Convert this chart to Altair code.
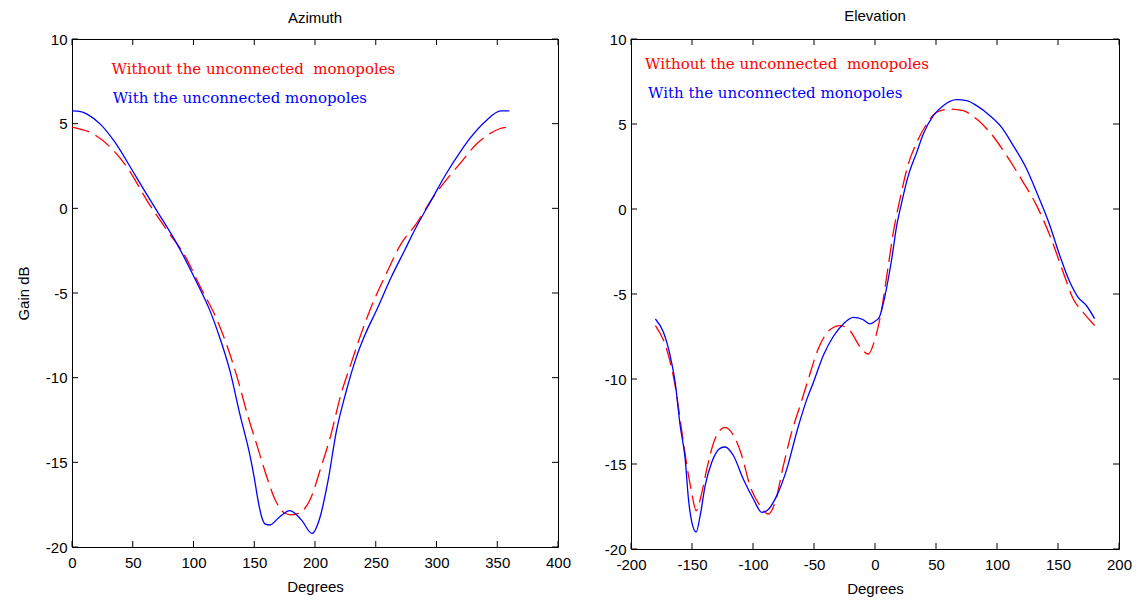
import altair as alt
import pandas as pd

# ---- Azimuth cut (degrees 0..360) ----
az_with_deg = [0, 8, 12.7, 23.5, 34.6, 50.8, 60, 70, 86.4, 102.8, 113.7, 121, 130, 138.3,
               146.5, 150, 153, 156, 159, 163, 169.7, 179.3, 188.8, 197.6, 203.9, 210.7,
               217.5, 225.7, 234, 241, 251.6, 262.5, 273.5, 283, 296.9, 307.6, 320, 328,
               340.6, 353, 360]
az_with_gain = [5.75, 5.7, 5.55, 4.96, 3.98, 2.1, 1.0, -0.16, -2.1, -4.4, -6.07, -7.5, -9.6,
                -12.2, -14.6, -15.9, -17.2, -18.2, -18.65, -18.7, -18.3, -17.85, -18.4,
                -19.2, -18.3, -16.1, -13.2, -10.8, -8.8, -7.5, -5.87, -4.1, -2.52, -1.15,
                0.63, 2.0, 3.38, 4.17, 5.16, 5.75, 5.75]

az_without_deg = [0, 18, 32, 45.6, 62, 78.6, 92.3, 106, 119.8, 128, 136, 144.5, 152.7, 159.6,
                  167.8, 174.6, 180, 187, 196.6, 204.9, 213, 221.3, 229.5, 238, 246, 258.4,
                  270.8, 283, 297, 310.6, 318.8, 334, 343.5, 352, 360]
az_without_gain = [4.8, 4.37, 3.58, 2.4, 0.43, -1.34, -2.72, -4.69, -6.66, -8.2, -10.0, -12.2,
                   -14.1, -15.7, -17.3, -17.98, -18.1, -18.0, -17.1, -15.3, -13.4, -11.0, -9.2,
                   -7.4, -5.87, -3.9, -2.1, -0.95, 0.63, 1.9, 2.6, 3.87, 4.4, 4.7, 4.8]

# ---- Elevation cut (degrees -180..180) ----
el_with_deg = [-180, -173.4, -168, -163.8, -159.7, -155.6, -152.9, -150.2, -146.6, -143.3,
               -139.3, -133.8, -127, -122.9, -116.1, -107.9, -99.7, -92.8, -88.7, -80.5,
               -72.3, -64.1, -55.9, -50.5, -42.3, -34.2, -26, -17.8, -10, -4.1, 0, 3.5, 8.2,
               13.7, 17.8, 21.9, 27.3, 34.2, 39.6, 47.8, 55.9, 66.9, 75.1, 83.3, 94.2, 103.8,
               113.3, 124.3, 132.5, 143.4, 151.5, 159.7, 166.5, 173.4, 180]
el_with_gain = [-6.47, -7.25, -8.6, -10.2, -12.75, -14.7, -17.06, -18.4, -19.0, -18.04,
                -16.3, -14.9, -14.08, -14.0, -14.5, -15.9, -17.06, -17.84, -17.75, -16.86,
                -15.3, -13.1, -11.2, -10.2, -8.6, -7.5, -6.76, -6.37, -6.5, -6.76, -6.6,
                -6.37, -5.1, -2.94, -0.98, 0.39, 1.96, 3.33, 4.41, 5.49, 6.08, 6.43, 6.37,
                6.08, 5.49, 4.8, 3.73, 2.35, 0.98, -0.98, -2.75, -4.3, -5.2, -5.69, -6.45]

el_without_deg = [-180, -171, -163.8, -158.3, -154.2, -150.2, -146.6, -142, -137.9, -131,
                  -122.9, -116.1, -109.2, -102.4, -94.2, -87.4, -81.9, -75.1, -68.2, -61.4,
                  -54.6, -46.4, -36.9, -28.7, -20.5, -12.3, -5.5, 0, 4, 10.9, 15, 20.5, 27.3,
                  34.2, 42.3, 50.5, 61.4, 72.3, 83.3, 94.2, 107.9, 121.5, 132.5, 143.4, 154.3,
                  162.5, 170.6, 180]
el_without_gain = [-6.86, -8.2, -10.4, -13.1, -15.1, -16.7, -17.75, -16.7, -15.3, -13.5,
                   -12.84, -13.3, -14.5, -16.3, -17.45, -17.94, -17.25, -15.1, -13.1, -11.57,
                   -10.0, -8.2, -7.1, -6.86, -7.16, -8.1, -8.53, -7.65, -6.47, -3.33, -1.37,
                   0.59, 2.65, 3.92, 5.0, 5.69, 5.88, 5.78, 5.29, 4.51, 3.14, 1.57, 0.2,
                   -1.57, -3.73, -5.29, -6.08, -6.85]

# ---- Axis ticks and annotation text ----
gain_ticks = [-20, -15, -10, -5, 0, 5, 10]
az_ticks = [0, 50, 100, 150, 200, 250, 300, 350, 400]
el_ticks = [-200, -150, -100, -50, 0, 50, 100, 150, 200]
# the second gap is a no-break space so that the double space survives in SVG
label_without = "Without the unconnected\u00a0 monopoles"
label_with = "With the unconnected monopoles"

RED = "#ff0000"
BLUE = "#0000ff"
SANS = "Liberation Sans"
SERIF = "DejaVu Serif"
TICK_PX = 6


def panel(title, deg_with, gain_with, deg_without, gain_without, xticks,
          text_x, text_y, width, height, ytitle, title_offset):
    xdom = [xticks[0], xticks[-1]]
    ydom = [gain_ticks[0], gain_ticks[-1]]
    xs = alt.Scale(domain=xdom, nice=False, zero=False)
    ys = alt.Scale(domain=ydom, nice=False, zero=False)

    # plain hyphen for negative tick labels
    plain = "'' + datum.value"
    yaxis = alt.Axis(values=gain_ticks, ticks=False, domain=False, grid=False,
                     labelFont=SANS, labelFontSize=15, labelColor="black", labelPadding=5,
                     minExtent=27, maxExtent=27, titleFont=SANS, titleFontSize=15,
                     titleFontWeight="normal", titleColor="black", titlePadding=14,
                     labelFlush=False, labelExpr=plain)
    xaxis = alt.Axis(values=xticks, ticks=False, domain=False, grid=False,
                     labelFont=SANS, labelFontSize=15, labelColor="black", labelPadding=8,
                     titleFont=SANS, titleFontSize=15, titleFontWeight="normal",
                     titleColor="black", titlePadding=9, labelFlush=False, labelExpr=plain)

    df_with = pd.DataFrame({"deg": deg_with, "gain": gain_with})
    df_without = pd.DataFrame({"deg": deg_without, "gain": gain_without})

    line_with = alt.Chart(df_with).mark_line(
        color=BLUE, strokeWidth=1.3, interpolate="monotone"
    ).encode(
        x=alt.X("deg:Q", scale=xs, axis=xaxis, title="Degrees"),
        y=alt.Y("gain:Q", scale=ys, axis=yaxis, title=ytitle),
    )
    line_without = alt.Chart(df_without).mark_line(
        color=RED, strokeWidth=1.3, strokeDash=[18, 7], interpolate="monotone"
    ).encode(x=alt.X("deg:Q", scale=xs), y=alt.Y("gain:Q", scale=ys))

    # inward-pointing ticks on all four sides of the box
    dy = TICK_PX * (ydom[1] - ydom[0]) / height
    dx = TICK_PX * (xdom[1] - xdom[0]) / width
    xt = pd.DataFrame({"v": xticks})
    yt = pd.DataFrame({"v": gain_ticks})
    bottom = alt.Chart(xt).mark_rule(color="black", strokeWidth=1).encode(
        x=alt.X("v:Q", scale=xs), y=alt.datum(ydom[0]), y2=alt.datum(ydom[0] + dy))
    top = alt.Chart(xt).mark_rule(color="black", strokeWidth=1).encode(
        x=alt.X("v:Q", scale=xs), y=alt.datum(ydom[1]), y2=alt.datum(ydom[1] - dy))
    left = alt.Chart(yt).mark_rule(color="black", strokeWidth=1).encode(
        y=alt.Y("v:Q", scale=ys), x=alt.datum(xdom[0]), x2=alt.datum(xdom[0] + dx))
    right = alt.Chart(yt).mark_rule(color="black", strokeWidth=1).encode(
        y=alt.Y("v:Q", scale=ys), x=alt.datum(xdom[1]), x2=alt.datum(xdom[1] - dx))

    notes = pd.DataFrame({"x": text_x, "y": text_y, "t": [label_without, label_with],
                          "c": [RED, BLUE]})
    text = alt.Chart(notes).mark_text(
        font=SERIF, fontSize=15, align="left", baseline="middle"
    ).encode(
        x=alt.X("x:Q", scale=xs), y=alt.Y("y:Q", scale=ys), text="t:N",
        color=alt.Color("c:N", scale=None),
    )

    return alt.layer(line_without, line_with, bottom, top, left, right, text).properties(
        width=width, height=height,
        title=alt.TitleParams(title, font=SANS, fontSize=15, fontWeight="normal",
                              color="black", offset=title_offset),
    )


az = panel("Azimuth", az_with_deg, az_with_gain, az_without_deg, az_without_gain,
           az_ticks, [32.5, 33.5], [8.23, 6.5], 486, 508, "Gain dB", 6)
el = panel("Elevation", el_with_deg, el_with_gain, el_without_deg, el_without_gain,
           el_ticks, [-188.5, -186], [8.53, 6.82], 488, 510, None, 8)

chart = alt.hconcat(az, el, spacing=31).properties(
    padding={"left": 15, "top": 8, "right": 0, "bottom": 0},
    background="white",
).configure_view(stroke="black", strokeWidth=1).configure_concat(spacing=31)

chart.save("out.html", embed_options={"renderer": "svg", "actions": False})
